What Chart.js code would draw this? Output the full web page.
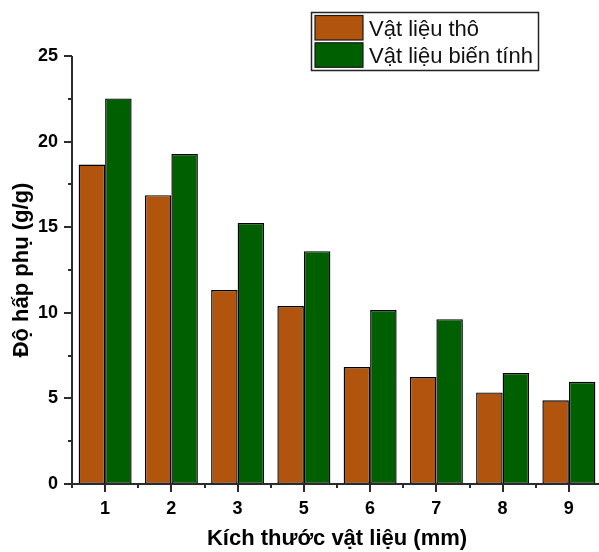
<!DOCTYPE html>
<html>
<head>
<meta charset="utf-8">
<script src="https://cdn.jsdelivr.net/npm/chart.js@4.4.0/dist/chart.umd.min.js"></script>
<style>
html, body { margin: 0; padding: 0; background: #fff; overflow: hidden; width: 599px; height: 552px; }
canvas { display: block; }
</style>
</head>
<body>
<canvas id="c" width="604" height="552" style="width:604px;height:552px"></canvas>
<script>
const categories = ['1', '2', '3', '5', '6', '7', '8', '9'];
const rawValues = [18.66, 16.87, 11.33, 10.39, 6.83, 6.25, 5.35, 4.89];
const modifiedValues = [22.52, 19.28, 15.24, 13.6, 10.16, 9.63, 6.48, 5.97];
const seriesLabels = ['Vật liệu thô', 'Vật liệu biến tính'];
const yTicks = [0, 5, 10, 15, 20, 25];
const yMinorTicks = [2.5, 7.5, 12.5, 17.5, 22.5];

const ORANGE = '#B0540E';
const GREEN = '#005F00';
const AXIS = '#2b2b2b';
const FONT = '"Liberation Sans", Arial, sans-serif';

const axesPlugin = {
  id: 'originAxes',
  afterDatasetsDraw(chart) {
    const ctx = chart.ctx;
    const x = chart.scales.x, y = chart.scales.y;
    const ca = chart.chartArea;
    ctx.save();
    ctx.strokeStyle = AXIS;
    ctx.lineWidth = 2;
    ctx.lineCap = 'butt';
    ctx.beginPath();
    ctx.moveTo(ca.left, ca.top);
    ctx.lineTo(ca.left, ca.bottom + 1);
    ctx.stroke();
    ctx.beginPath();
    ctx.moveTo(ca.left - 8, ca.bottom);
    ctx.lineTo(ca.right + 2, ca.bottom);
    ctx.stroke();
    yTicks.forEach(v => {
      const py = Math.round(y.getPixelForValue(v));
      ctx.beginPath(); ctx.moveTo(ca.left - 8, py); ctx.lineTo(ca.left, py); ctx.stroke();
    });
    yMinorTicks.forEach(v => {
      const py = Math.round(y.getPixelForValue(v));
      ctx.beginPath(); ctx.moveTo(ca.left - 4, py); ctx.lineTo(ca.left, py); ctx.stroke();
    });
    categories.forEach((c, i) => {
      const px = Math.round(x.getPixelForValue(i));
      ctx.beginPath(); ctx.moveTo(px, ca.bottom); ctx.lineTo(px, ca.bottom + 8); ctx.stroke();
    });
    for (let i = 0; i <= categories.length; i++) {
      const px = Math.round(x.getPixelForValue(i - 0.5));
      ctx.beginPath(); ctx.moveTo(px, ca.bottom); ctx.lineTo(px, ca.bottom + 4); ctx.stroke();
    }
    ctx.restore();
  }
};

const legendPlugin = {
  id: 'boxLegend',
  afterDraw(chart) {
    const ctx = chart.ctx;
    ctx.save();
    const bx = 311.5, by = 12.5, bw = 227, bh = 58;
    ctx.fillStyle = '#fff';
    ctx.fillRect(bx, by, bw, bh);
    ctx.strokeStyle = '#222';
    ctx.lineWidth = 1.5;
    ctx.strokeRect(bx, by, bw, bh);
    ctx.font = '22px ' + FONT;
    ctx.textBaseline = 'alphabetic';
    chart.data.datasets.forEach((ds, i) => {
      const sy = 15.5 + i * 27.3;
      ctx.fillStyle = ds.backgroundColor;
      ctx.fillRect(315, sy, 48, 24.5);
      ctx.strokeStyle = '#1a1a1a';
      ctx.lineWidth = 1.2;
      ctx.strokeRect(315, sy, 48, 24.5);
      ctx.fillStyle = '#111';
      ctx.fillText(ds.label, 369, 35.5 + i * 27.8);
    });
    ctx.restore();
  }
};

new Chart(document.getElementById('c'), {
  type: 'bar',
  data: {
    labels: categories,
    datasets: [
      { label: seriesLabels[0], data: rawValues, backgroundColor: ORANGE, borderColor: '#000', borderWidth: 1.4, borderSkipped: false },
      { label: seriesLabels[1], data: modifiedValues, backgroundColor: GREEN, borderColor: '#000', borderWidth: 1.4, borderSkipped: false }
    ]
  },
  options: {
    responsive: false,
    animation: false,
    devicePixelRatio: 1,
    layout: { padding: { top: 56, right: 2, bottom: 0, left: 0 } },
    datasets: { bar: { categoryPercentage: 0.8, barPercentage: 1.0 } },
    plugins: { legend: { display: false }, tooltip: { enabled: false } },
    scales: {
      x: {
        type: 'category',
        offset: true,
        grid: { display: false, drawTicks: false },
        border: { display: false },
        ticks: { color: '#000', padding: 14, font: { family: FONT, size: 18, weight: 'bold' }, maxRotation: 0 },
        title: { display: true, text: 'Kích thước vật liệu (mm)', color: '#000', padding: { top: 0, bottom: 0 }, font: { family: FONT, size: 22, weight: 'bold' } },
        afterFit(scale) { scale.height = 68; }
      },
      y: {
        min: 0, max: 25,
        afterBuildTicks(scale) { scale.ticks = yTicks.map(v => ({ value: v })); },
        grid: { display: false, drawTicks: false },
        border: { display: false },
        ticks: { color: '#000', padding: 14, font: { family: FONT, size: 18, weight: 'bold' } },
        title: { display: true, text: 'Độ hấp phụ (g/g)', color: '#000', padding: { top: 9, bottom: 0 }, font: { family: FONT, size: 22, weight: 'bold' } },
        afterFit(scale) { scale.width = 72; }
      }
    }
  },
  plugins: [axesPlugin, legendPlugin]
});
</script>
</body>
</html>
